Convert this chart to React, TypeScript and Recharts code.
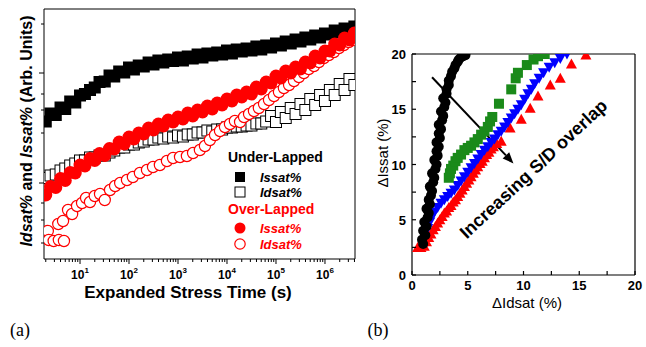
import React from 'react';
import { ScatterChart, Scatter, XAxis, YAxis, ReferenceLine, ReferenceDot } from 'recharts';

const FONT = 'Arial, "Liberation Sans", sans-serif';

// ---------- panel (a): stress time, log axis ----------
const stressTime = [
  2, 2.5, 3.2, 4, 5, 6.3, 8,
  10, 12.6, 16, 20, 25, 32, 40, 50, 63, 80,
  100, 126, 158, 200, 251, 316, 398, 501, 631, 794,
  1000, 1260, 1580, 2000, 2510, 3160, 3980, 5010, 6310, 7940,
  1e4, 1.26e4, 1.58e4, 2e4, 2.51e4, 3.16e4, 3.98e4, 5.01e4, 6.31e4, 7.94e4,
  1e5, 1.26e5, 1.58e5, 2e5, 2.51e5, 3.16e5, 3.98e5, 5.01e5, 6.31e5, 7.94e5,
  1e6, 1.26e6, 1.58e6, 2e6, 2.51e6, 3.16e6, 3.98e6,
];

// Under-Lapped Issat% (filled squares)
const underIssat = [
  55.0, 58.2, 57.6, 60.6, 60.0, 63.0, 62.6, 65.4, 66.0, 67.6, 68.6, 70.8, 71.0, 73.4, 73.0, 75.0,
  74.6, 76.6, 75.8, 77.4, 77.0, 78.6, 77.8, 79.4, 78.6, 79.8, 79.2, 80.6, 79.4, 81.0, 80.2, 81.8,
  80.6, 82.2, 81.4, 82.6, 81.8, 83.4, 82.2, 83.8, 83.0, 84.2, 83.4, 85.0, 83.8, 85.4, 84.6, 86.2,
  85.4, 87.0, 86.2, 87.8, 87.0, 88.6, 87.8, 89.4, 88.6, 90.2, 89.8, 91.4, 90.6, 92.2, 91.4, 93.0,
];

// Under-Lapped Idsat% (open squares)
const underIdsat = [
  32.4, 33.4, 33.8, 35.4, 36.2, 37.4, 38.2, 39.4, 39.4, 40.6, 40.6, 41.4, 41.4, 42.6, 43.4, 44.6,
  44.6, 45.8, 45.8, 46.6, 47.0, 47.8, 47.8, 48.6, 48.2, 49.0, 48.6, 49.4, 49.0, 49.8, 49.8, 50.6,
  50.6, 51.4, 51.0, 51.8, 51.8, 52.6, 52.6, 53.0, 53.0, 53.4, 53.4, 54.2, 54.2, 55.0, 57.2, 54.8,
  58.8, 56.4, 60.4, 58.0, 62.0, 59.6, 64.0, 61.6, 65.6, 63.2, 67.6, 65.6, 70.0, 67.6, 72.0, 69.6,
];

// Over-Lapped Issat% (filled circles)
const overIssat = [
  25.6, 29.0, 28.6, 32.2, 31.4, 34.6, 34.4, 37.6, 37.2, 40.2, 39.4, 42.2, 41.4, 44.2, 44.0, 46.8,
  46.0, 48.8, 48.0, 50.4, 50.0, 52.4, 51.6, 54.0, 53.2, 55.6, 54.8, 56.8, 56.0, 58.4, 57.2, 59.6,
  58.8, 61.2, 60.0, 62.4, 61.6, 64.0, 63.2, 65.6, 64.8, 66.8, 66.0, 68.8, 68.0, 70.8, 70.4, 73.2,
  72.4, 75.2, 74.4, 76.8, 76.0, 78.8, 78.4, 81.2, 80.4, 83.2, 83.2, 86.0, 85.6, 88.4, 87.6, 90.4,
];

// Over-Lapped Idsat% (open circles) has its own time stamps
const overIdsatTime = [
  2.2, 2.3, 2.9, 3.7, 4.7, 3.6, 4.5, 5.7, 6.9, 8.7, 11, 13.3, 16, 20, 25.6, 32, 41, 52, 66, 91,
  120, 167, 233, 309, 427, 595, 793, 1100, 1520, 2030, 2800, 3550, 4480, 5700, 7200, 9100,
  11500, 14500, 18500, 22300, 28200, 35500, 44700, 57000, 72000, 91000, 115000, 145000, 185000,
  233000, 294000, 371000, 467000, 597000, 753000, 950000, 1.2e6, 1.52e6, 1.93e6, 2.43e6, 3.06e6, 3.7e6,
];
const overIdsat = [
  11.2, 7.6, 7.2, 7.6, 7.2, 14, 15.2, 19.6, 18, 21.2, 22.4, 24.4, 22.8, 25.2, 26, 23.6, 27.6, 29.2, 30.4, 31.6,
  32.8, 34.4, 35.6, 36.8, 37.6, 39.2, 40.4, 40.8, 41.2, 42.4, 43.6, 45.2, 47.6, 49.6, 51.2, 52.8,
  54, 55.2, 54.8, 56.8, 58, 59.2, 60.4, 62, 63.6, 65.2, 66.8, 68.4, 69.6,
  71.2, 72.8, 74.4, 76, 77.2, 78.8, 80.4, 81.6, 82.8, 84.4, 85.6, 86.8, 87.6,
];

const decades = [1, 10, 100, 1000, 1e4, 1e5, 1e6];
const minorSteps = [1, 2, 3, 4, 5, 6, 7, 8, 9];
const timeTicks = decades
  .flatMap((d) => minorSteps.map((m) => m * d))
  .filter((t) => t >= 2 && t <= 4e6);
const arbTicks = [6.4, 15.6, 22.4, 30.4, 50.4, 59.6, 66, 74.4, 94];
const arbMajor = [30.4, 74.4];

// ---------- panel (b): dIssat vs dIdsat ----------
const blackX = [1.0, 0.9, 1.2, 1.0, 1.3, 1.1, 1.4, 1.5, 1.3, 1.6, 1.5, 1.7, 1.8, 1.6, 1.9, 2.0, 1.8, 2.1, 2.2, 2.0, 2.3, 2.2, 2.4, 2.2, 2.5, 2.4, 2.6, 2.4, 2.7, 2.8, 2.6, 2.9, 3.0, 2.8, 3.1, 3.1, 3.3, 3.3, 3.5, 3.6, 3.8, 3.9, 4.1, 4.2, 4.4, 4.6, 4.8];
const blackY = [2.8, 3.2, 3.6, 4.0, 4.4, 4.8, 5.2, 5.6, 6.0, 6.4, 6.8, 7.2, 7.6, 8.0, 8.4, 8.8, 9.2, 9.6, 10.0, 10.4, 10.8, 11.2, 11.6, 12.0, 12.4, 12.8, 13.2, 13.6, 14.0, 14.4, 14.8, 15.2, 15.6, 16.0, 16.4, 16.8, 17.2, 17.6, 18.0, 18.4, 18.7, 19.0, 19.3, 19.5, 19.7, 19.8, 19.9];

const greenX = [3.3, 3.4, 3.5, 3.7, 3.9, 4.1, 4.4, 4.7, 5.0, 5.3, 5.6, 5.9, 6.2, 6.5, 6.8, 7.0, 7.2, 7.8, 8.9, 9.3, 9.5, 10.3, 10.9, 11.3, 11.9];
const greenY = [8.8, 9.2, 9.6, 9.9, 10.3, 10.6, 10.9, 11.3, 11.5, 11.7, 12.0, 12.3, 12.7, 13.0, 13.4, 13.9, 14.3, 15.5, 16.8, 17.8, 18.3, 19.0, 19.5, 19.8, 20.0];

const blueX = [1.4, 1.6, 1.8, 2.0, 2.3, 2.6, 2.9, 3.2, 3.5, 3.8, 4.1, 4.4, 4.7, 5.0, 5.3, 5.6, 5.9, 6.2, 6.5, 6.8, 7.1, 7.4, 7.7, 8.0, 8.3, 8.6, 8.9, 9.2, 9.5, 9.8, 10.1, 10.4, 10.7, 11.0, 11.4, 11.8, 12.3, 12.8, 13.3, 13.9];
const blueY = [4.2, 4.8, 5.3, 5.7, 6.1, 6.5, 6.8, 7.1, 7.4, 7.7, 8.1, 8.5, 8.9, 9.3, 9.7, 10.1, 10.5, 10.9, 11.3, 11.6, 12.0, 12.3, 12.7, 13.0, 13.4, 13.8, 14.2, 14.6, 15.0, 15.4, 15.9, 16.4, 16.8, 17.3, 17.8, 18.3, 18.8, 19.2, 19.6, 20.0];

const redX = [0.5, 0.8, 1.1, 1.3, 1.5, 1.7, 1.9, 2.1, 2.3, 2.5, 2.7, 2.9, 3.1, 3.3, 3.5, 3.7, 3.9, 4.1, 4.3, 4.5, 4.7, 4.9, 5.1, 5.3, 5.5, 5.7, 5.9, 6.1, 6.3, 6.5, 6.7, 6.9, 7.1, 7.3, 7.6, 8.0, 8.8, 9.8, 10.6, 11.3, 12.4, 13.3, 14.3, 15.6];
const redY = [2.5, 2.5, 2.6, 3.0, 3.4, 3.7, 4.1, 4.4, 4.7, 5.0, 5.3, 5.6, 5.8, 6.1, 6.3, 6.6, 6.8, 7.1, 7.4, 7.7, 8.0, 8.3, 8.6, 8.9, 9.2, 9.5, 9.8, 10.1, 10.3, 10.6, 10.9, 11.1, 11.4, 11.6, 11.9, 12.1, 13.3, 14.1, 15.1, 16.2, 17.2, 17.8, 19.1, 19.9];

const pctTicks = [0, 2.5, 5, 7.5, 10, 12.5, 15, 17.5, 20];

const pairs = (xs: number[], ys: number[]) => xs.map((x, i) => ({ x, y: ys[i] }));

// ---------- marker shapes ----------
const filledSquare = (p: any) => <rect x={p.cx - 6} y={p.cy - 6} width={12} height={12} fill="#000" />;
const openSquare = (p: any) => (
  <rect x={p.cx - 5.5} y={p.cy - 5.5} width={11} height={11} fill="#fff" stroke="#000" strokeWidth={1} />
);
const redDot = (p: any) => <circle cx={p.cx} cy={p.cy} r={6.5} fill="#ff0000" />;
const redRing = (p: any) => <circle cx={p.cx} cy={p.cy} r={5.6} fill="#fff" stroke="#ff0000" strokeWidth={1.2} />;
const blackDot = (p: any) => <circle cx={p.cx} cy={p.cy} r={5} fill="#000" />;
const greenSquare = (p: any) => <rect x={p.cx - 5} y={p.cy - 5} width={10} height={10} fill="#1a8a1a" />;
const blueDown = (p: any) => (
  <polygon points={`${p.cx - 5.5},${p.cy - 4.5} ${p.cx + 5.5},${p.cy - 4.5} ${p.cx},${p.cy + 5.5}`} fill="#0000ff" />
);
const redUp = (p: any) => (
  <polygon points={`${p.cx - 5.5},${p.cy + 4.5} ${p.cx + 5.5},${p.cy + 4.5} ${p.cx},${p.cy - 5.5}`} fill="#ff0000" />
);

// ---------- ticks ----------
const LogTick = (props: any) => {
  const { x, y, payload } = props;
  const p = Math.log10(payload.value);
  const major = Math.abs(p - Math.round(p)) < 1e-6;
  return (
    <g>
      <line x1={x} y1={y} x2={x} y2={y + (major ? 5 : 3)} stroke="#000" />
      {major && (
        <text x={x} y={y + 20} textAnchor="middle" fontSize={12} fontWeight="bold" fontFamily={FONT} fill="#000">
          10<tspan fontSize={8} dy={-6}>{Math.round(p)}</tspan>
        </text>
      )}
    </g>
  );
};

const ArbTick = (props: any) => {
  const { x, y, payload } = props;
  const len = arbMajor.includes(payload.value) ? 5 : 3;
  return <line x1={x} y1={y} x2={x - len} y2={y} stroke="#000" />;
};

const PctBottomTick = (props: any) => {
  const { x, y, payload } = props;
  return (
    <g>
      <line x1={x} y1={y} x2={x} y2={y - 4} stroke="#000" strokeWidth={1.2} />
      {payload.value % 5 === 0 && (
        <text x={x} y={y + 15} textAnchor="middle" fontSize={13} fontWeight="bold" fontFamily={FONT} fill="#000">
          {payload.value}
        </text>
      )}
    </g>
  );
};

const PctLeftTick = (props: any) => {
  const { x, y, payload } = props;
  return (
    <g>
      <line x1={x} y1={y} x2={x + 4} y2={y} stroke="#000" strokeWidth={1.2} />
      {payload.value % 5 === 0 && (
        <text x={x - 6} y={y + 5} textAnchor="end" fontSize={13} fontWeight="bold" fontFamily={FONT} fill="#000">
          {payload.value}
        </text>
      )}
    </g>
  );
};

const arrowShape = (p: any) => {
  const { x1, y1, x2, y2 } = p;
  const a = Math.atan2(y2 - y1, x2 - x1);
  const L = 11;
  const W = 4.5;
  const bx = x2 - L * Math.cos(a);
  const by = y2 - L * Math.sin(a);
  const nx = -Math.sin(a) * W;
  const ny = Math.cos(a) * W;
  return (
    <g>
      <line x1={x1} y1={y1} x2={bx} y2={by} stroke="#000" strokeWidth={2} />
      <polygon points={`${x2},${y2} ${bx + nx},${by + ny} ${bx - nx},${by - ny}`} fill="#000" />
    </g>
  );
};

const overlapText = (p: any) => (
  <text
    x={p.cx}
    y={p.cy + 6}
    transform={`rotate(-43 ${p.cx} ${p.cy})`}
    textAnchor="middle"
    fontSize={18}
    fontWeight="bold"
    fontFamily={FONT}
    fill="#000"
  >
    Increasing S/D overlap
  </text>
);

const abs = (left: number, top: number): React.CSSProperties => ({ position: 'absolute', left, top });

const LegendRow = ({ top, icon, label, color }: { top: number; icon: React.ReactNode; label: string; color: string }) => (
  <div style={{ ...abs(233, top - 8), display: 'flex', alignItems: 'center', height: 16 }}>
    <svg width="14" height="14" viewBox="0 0 14 14">{icon}</svg>
    <span style={{ marginLeft: 13, fontSize: 13, fontWeight: 'bold', fontStyle: 'italic', color }}>{label}</span>
  </div>
);

const App: React.FC = () => {
  const underIssatData = pairs(stressTime, underIssat);
  const underIdsatData = pairs(stressTime, underIdsat);
  const overIssatData = pairs(stressTime, overIssat);
  const overIdsatData = pairs(overIdsatTime, overIdsat);

  return (
    <div style={{ position: 'absolute', left: 0, top: 0, width: 646, height: 347, background: '#fff', fontFamily: FONT }}>
      <div style={abs(0, 0)}>
        <ScatterChart width={360} height={310} margin={{ top: 9, right: 5, bottom: 0, left: 0 }}>
          <XAxis
            dataKey="x"
            type="number"
            scale="log"
            domain={[1.84, 4.1e6]}
            allowDataOverflow
            ticks={timeTicks}
            interval={0}
            tickSize={0}
            tickMargin={0}
            tickLine={false}
            tick={<LogTick />}
            height={51}
            axisLine={{ stroke: '#000' }}
          />
          <XAxis
            xAxisId="top"
            orientation="top"
            mirror
            type="number"
            scale="log"
            domain={[1.84, 4.1e6]}
            allowDataOverflow
            ticks={timeTicks}
            interval={0}
            tickSize={3}
            tick={false}
            tickLine={{ stroke: '#000' }}
            axisLine={{ stroke: '#000' }}
          />
          <YAxis
            dataKey="y"
            type="number"
            domain={[0, 100]}
            allowDataOverflow
            ticks={arbTicks}
            interval={0}
            tickSize={0}
            tickMargin={0}
            tickLine={false}
            tick={<ArbTick />}
            width={44}
            axisLine={{ stroke: '#000' }}
          />
          <YAxis
            yAxisId="right"
            orientation="right"
            mirror
            type="number"
            domain={[0, 100]}
            allowDataOverflow
            ticks={arbTicks}
            interval={0}
            tickSize={3}
            tick={false}
            tickLine={{ stroke: '#000' }}
            axisLine={{ stroke: '#000' }}
          />
          <Scatter data={underIdsatData} shape={openSquare} isAnimationActive={false} />
          <Scatter data={underIssatData} shape={filledSquare} isAnimationActive={false} />
          <Scatter data={overIdsatData} shape={redRing} isAnimationActive={false} />
          <Scatter data={overIssatData} shape={redDot} isAnimationActive={false} />
        </ScatterChart>
      </div>

      {/* legend of panel (a) */}
      <div style={{ ...abs(228, 149), fontSize: 14, fontWeight: 'bold', lineHeight: '16px', color: '#000' }}>Under-Lapped</div>
      <LegendRow top={177} color="#000" label="Issat%" icon={<rect x={2} y={2} width={10} height={10} fill="#000" />} />
      <LegendRow top={192} color="#000" label="Idsat%" icon={<rect x={2} y={2} width={10} height={10} fill="#fff" stroke="#000" />} />
      <div style={{ ...abs(228, 201), fontSize: 14, fontWeight: 'bold', lineHeight: '16px', color: '#ff0000' }}>Over-Lapped</div>
      <LegendRow top={228} color="#ff0000" label="Issat%" icon={<circle cx={7} cy={7} r={5.5} fill="#ff0000" />} />
      <LegendRow top={244} color="#ff0000" label="Idsat%" icon={<circle cx={7} cy={7} r={5.2} fill="#fff" stroke="#ff0000" strokeWidth={1.2} />} />

      <div
        style={{
          ...abs(27, 131),
          transform: 'translate(-50%, -50%) rotate(-90deg)',
          whiteSpace: 'nowrap',
          fontSize: 16,
          fontWeight: 'bold',
        }}
      >
        <i>Idsat%</i> and <i>Issat%</i> (Arb. Units)
      </div>
      <div style={{ ...abs(188, 293), transform: 'translate(-50%, -50%)', whiteSpace: 'nowrap', fontSize: 17, fontWeight: 'bold' }}>
        Expanded Stress Time (s)
      </div>
      <div style={{ ...abs(20, 330), transform: 'translate(-50%, -50%)', fontFamily: '"Liberation Serif", "Times New Roman", serif', fontSize: 18 }}>(a)</div>

      <div style={abs(360, 0)}>
        <ScatterChart width={286} height={320} margin={{ top: 54, right: 11, bottom: 0, left: 0 }}>
          <XAxis
            dataKey="x"
            type="number"
            domain={[0, 20]}
            allowDataOverflow
            ticks={pctTicks}
            interval={0}
            tickSize={0}
            tickMargin={0}
            tickLine={false}
            tick={<PctBottomTick />}
            height={45}
            axisLine={{ stroke: '#000', strokeWidth: 1.2 }}
          />
          <XAxis
            xAxisId="top"
            orientation="top"
            mirror
            type="number"
            domain={[0, 20]}
            allowDataOverflow
            ticks={pctTicks}
            interval={0}
            tickSize={4}
            tick={false}
            tickLine={{ stroke: '#000', strokeWidth: 1.2 }}
            axisLine={{ stroke: '#000', strokeWidth: 1.2 }}
          />
          <YAxis
            dataKey="y"
            type="number"
            domain={[0, 20]}
            allowDataOverflow
            ticks={pctTicks}
            interval={0}
            tickSize={0}
            tickMargin={0}
            tickLine={false}
            tick={<PctLeftTick />}
            width={52}
            axisLine={{ stroke: '#000', strokeWidth: 1.2 }}
          />
          <YAxis
            yAxisId="right"
            orientation="right"
            mirror
            type="number"
            domain={[0, 20]}
            allowDataOverflow
            ticks={pctTicks}
            interval={0}
            tickSize={4}
            tick={false}
            tickLine={{ stroke: '#000', strokeWidth: 1.2 }}
            axisLine={{ stroke: '#000', strokeWidth: 1.2 }}
          />
          <Scatter data={pairs(redX, redY)} shape={redUp} isAnimationActive={false} />
          <Scatter data={pairs(blueX, blueY)} shape={blueDown} isAnimationActive={false} />
          <Scatter data={pairs(greenX, greenY)} shape={greenSquare} isAnimationActive={false} />
          <Scatter data={pairs(blackX, blackY)} shape={blackDot} isAnimationActive={false} />
          <ReferenceLine
            segment={[
              { x: 1.8, y: 17.9 },
              { x: 9.1, y: 10.1 },
            ]}
            shape={arrowShape}
          />
          <ReferenceDot x={10.9} y={9.6} r={0} shape={overlapText} />
        </ScatterChart>
      </div>

      <div style={{ ...abs(527, 302), transform: 'translate(-50%, -50%)', whiteSpace: 'nowrap', fontSize: 15 }}>ΔIdsat (%)</div>
      <div style={{ ...abs(382, 153), transform: 'translate(-50%, -50%) rotate(-90deg)', whiteSpace: 'nowrap', fontSize: 15 }}>
        ΔIssat (%)
      </div>
      <div style={{ ...abs(378, 330), transform: 'translate(-50%, -50%)', fontFamily: '"Liberation Serif", "Times New Roman", serif', fontSize: 18 }}>(b)</div>
    </div>
  );
};

export default App;
